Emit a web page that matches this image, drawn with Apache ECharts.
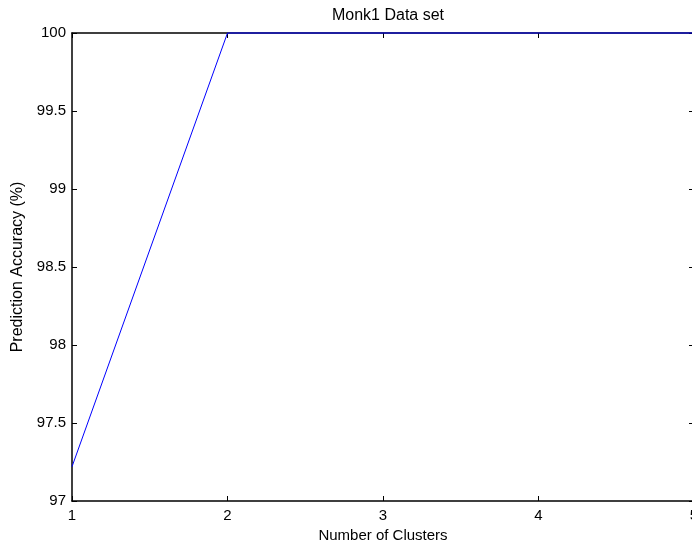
<!DOCTYPE html>
<html><head><meta charset="utf-8">
<script src="https://cdn.jsdelivr.net/npm/echarts@6/dist/echarts.min.js"></script>
<style>html,body{margin:0;padding:0;background:#fff;overflow:hidden;width:692px;height:548px}#c{width:704px;height:548px}</style>
</head><body><div id="c"></div>
<script>
const clusters = [1, 2, 3, 4, 5];
const accuracy = [97.22, 100, 100, 100, 100];
const xTicks = [1, 2, 3, 4, 5];
const yTicks = [97, 97.5, 98, 98.5, 99, 99.5, 100];

const font = 'Liberation Sans, Arial, Helvetica, sans-serif';
const chart = echarts.init(document.getElementById('c'), null, {renderer: 'canvas', width: 704, height: 548});
const axisLine = {show: true, lineStyle: {color: '#000', width: 1.5}};
const tick = {show: true, inside: true, length: 5, lineStyle: {color: '#000', width: 1}};
chart.setOption({
  animation: false,
  backgroundColor: '#fff',
  title: {text: 'Monk1 Data set', left: 383, top: 3, textAlign: 'center',
    textStyle: {fontFamily: font, fontSize: 16, fontWeight: 'normal', color: '#000'}},
  grid: {left: 72, top: 33, width: 622, height: 469, containLabel: false},
  xAxis: [{
    type: 'value', min: 1, max: 5, interval: 1, position: 'bottom',
    name: 'Number of Clusters', nameLocation: 'middle', nameGap: 27,
    nameTextStyle: {fontFamily: font, fontSize: 15, color: '#000'},
    axisLine: axisLine, axisTick: tick, splitLine: {show: false},
    axisLabel: {fontFamily: font, fontSize: 15, color: '#000', margin: 7,
      formatter: v => xTicks.includes(v) ? String(v) : ''}
  }, {
    type: 'value', min: 1, max: 5, interval: 1, position: 'top',
    axisLine: axisLine, axisTick: tick, splitLine: {show: false}, axisLabel: {show: false}
  }],
  yAxis: [{
    type: 'value', min: 97, max: 100, interval: 0.5, position: 'left',
    name: 'Prediction Accuracy (%)', nameLocation: 'middle', nameGap: 45,
    nameTextStyle: {fontFamily: font, fontSize: 16, color: '#000'},
    axisLine: axisLine, axisTick: tick, splitLine: {show: false},
    axisLabel: {fontFamily: font, fontSize: 15, color: '#000', margin: 6,
      formatter: v => yTicks.includes(v) ? String(v) : ''}
  }, {
    type: 'value', min: 97, max: 100, interval: 0.5, position: 'right',
    axisLine: axisLine, axisTick: tick, splitLine: {show: false}, axisLabel: {show: false}
  }],
  series: [{
    type: 'line', xAxisIndex: 0, yAxisIndex: 0,
    data: clusters.map((c, i) => [c, accuracy[i]]),
    showSymbol: false, symbol: 'none', clip: false, z: 10,
    lineStyle: {color: '#0000ff', width: 1}
  }]
});
</script></body></html>
